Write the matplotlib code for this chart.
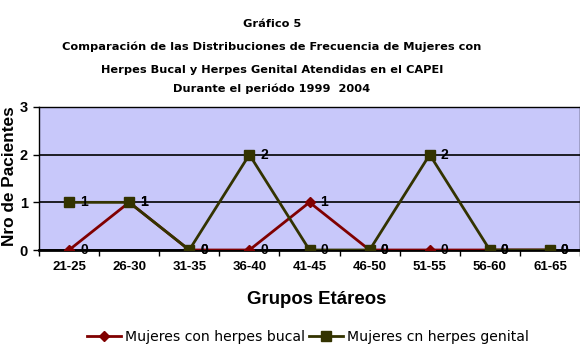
import matplotlib
matplotlib.use("Agg")
import matplotlib.pyplot as plt
import numpy as np

categories = ["21-25", "26-30", "31-35", "36-40", "41-45", "46-50", "51-55", "56-60", "61-65"]
bucal = [0, 1, 0, 0, 1, 0, 0, 0, 0]
genital = [1, 1, 0, 2, 0, 0, 2, 0, 0]
yticks = [0, 1, 2, 3]

title_lines = ["Gráfico 5",
               "Comparación de las Distribuciones de Frecuencia de Mujeres con",
               "Herpes Bucal y Herpes Genital Atendidas en el CAPEI",
               "Durante el periódo 1999  2004"]

W, H = 580, 354
fig = plt.figure(figsize=(W / 100, H / 100), dpi=100)
fig.patch.set_facecolor("white")

left, right, top, bottom = 39, 580, 107, 250
ax = fig.add_axes([left / W, 1 - bottom / H, (right - left) / W, (bottom - top) / H])
ax.set_facecolor("#C8C8FA")

x = np.arange(len(categories))
ax.plot(x, bucal, color="#800000", lw=2, marker="D", ms=5, mfc="#800000", mec="#800000",
        label="Mujeres con herpes bucal", zorder=3)
ax.plot(x, genital, color="#333300", lw=2, marker="s", ms=7, mfc="#333300", mec="#333300",
        label="Mujeres cn herpes genital", zorder=4)

for series in (bucal, genital):
    for xi, v in zip(x, series):
        ax.annotate(str(v), (xi, v), xytext=(11, 0), textcoords="offset pixels",
                    ha="left", va="center", fontsize=10, fontweight="bold",
                    family="Liberation Sans", zorder=5, annotation_clip=False)

ax.set_xlim(-0.5, len(categories) - 0.5)
ax.set_ylim(0, 3)
ax.set_yticks(yticks)
ax.set_yticklabels([str(t) for t in yticks], fontsize=10.5, fontweight="bold", family="Liberation Sans")
ax.set_xticks(x)
ax.set_xticklabels(categories, fontsize=9.5, fontweight="bold", family="Liberation Sans")
ax.tick_params(axis="x", length=0, pad=8)
ax.set_xticks(np.arange(-0.5, len(categories), 1), minor=True)
ax.tick_params(axis="x", which="minor", length=4, width=1, direction="out")
ax.tick_params(axis="y", length=4, width=1, direction="out", pad=4)
ax.grid(axis="y", color="black", lw=1.2)
ax.spines["left"].set_linewidth(1)
ax.spines["bottom"].set_linewidth(2)
ax.spines["top"].set_linewidth(1)
ax.spines["right"].set_linewidth(1)

fig.text(10 / W, 1 - 176 / H, "Nro de Pacientes", rotation=90, ha="center", va="center",
         fontsize=12.4, fontweight="bold", family="Liberation Sans")
fig.text(317 / W, 1 - 299 / H, "Grupos Etáreos", ha="center", va="center", fontsize=13.4,
         fontweight="bold", family="Liberation Sans")

ys = [24, 47, 70, 89]
for t, y in zip(title_lines, ys):
    fig.text(272 / W, 1 - y / H, t, ha="center", va="center", fontsize=8.2, fontweight="bold",
             family="DejaVu Sans")

leg = fig.legend(loc="center", bbox_to_anchor=(308 / W, 1 - 337 / H), ncol=2, frameon=False,
                 prop={"family": "DejaVu Sans", "size": 10.1}, handlelength=2.4, columnspacing=0.3,
                 handletextpad=0.3, borderpad=0, borderaxespad=0)

fig.savefig("out.png", dpi=100)
